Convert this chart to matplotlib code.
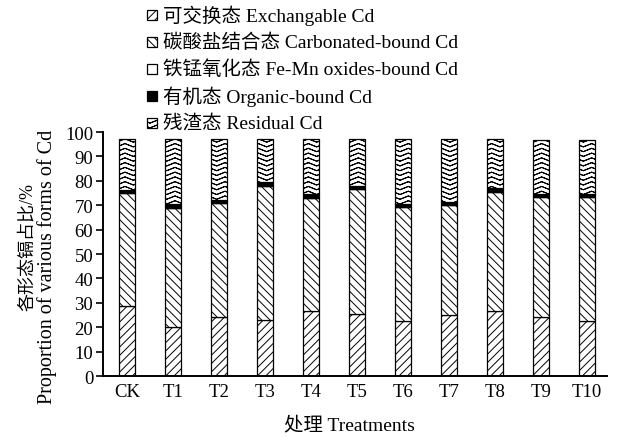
import warnings

import matplotlib
matplotlib.use("Agg")
import matplotlib.pyplot as plt
import numpy as np
from matplotlib import hatch as mhatch
from matplotlib.patches import Rectangle
from matplotlib.path import Path

warnings.filterwarnings("ignore")

treatments = ["CK", "T1", "T2", "T3", "T4", "T5", "T6", "T7", "T8", "T9", "T10"]
exchangable = [28.5, 20.2, 24.0, 23.0, 26.7, 25.6, 22.7, 25.0, 26.6, 24.3, 22.4]
carbonated = [46.5, 48.7, 47.1, 54.9, 46.3, 50.9, 46.4, 44.9, 48.9, 48.9, 50.8]
fe_mn = [0, 0, 0, 0, 0, 0, 0, 0, 0, 0, 0]
organic = [1.2, 1.5, 1.2, 1.5, 1.5, 1.5, 1.4, 1.5, 1.6, 1.6, 1.6]
residual = [20.8, 26.6, 24.7, 17.6, 22.5, 19.0, 26.5, 25.6, 19.9, 22.1, 22.1]

labels = [
    "可交换态 Exchangable Cd",
    "碳酸盐结合态 Carbonated-bound Cd",
    "铁锰氧化态 Fe-Mn oxides-bound Cd",
    "有机态 Organic-bound Cd",
    "残渣态 Residual Cd",
]


class ChevronHatch(mhatch.HatchPatternBase):
    """Rows of upward chevrons, used for the residual fraction.

    Each row runs out and back along the same zigzag so Agg's hatch fill
    covers no area and only the stroke shows.
    """

    def __init__(self, hatch, density):
        n = hatch.count("^")
        self.rows = 21 * n
        self.cols = 6 * n
        self.num_vertices = self.rows * 2 * (2 * self.cols + 1) if n else 0

    def set_vertices_and_codes(self, vertices, codes):
        half = 2 * self.cols + 1
        xs = np.linspace(0.0, 1.0, half)
        bump = np.where(np.arange(half) % 2 == 1, 0.7 / self.rows, 0.0)
        xs = np.concatenate([xs, xs[::-1]])
        bump = np.concatenate([bump, bump[::-1]])
        per_row = 2 * half
        for i in range(self.rows):
            chunk = slice(i * per_row, (i + 1) * per_row)
            vertices[chunk, 0] = xs
            vertices[chunk, 1] = (i + 0.15) / self.rows + bump
            codes[chunk] = Path.LINETO
            codes[i * per_row] = Path.MOVETO


mhatch._hatch_types.append(ChevronHatch)

plt.rcParams["font.family"] = ["Liberation Serif", "Noto Sans CJK SC"]
plt.rcParams["hatch.linewidth"] = 0.7
plt.rcParams["axes.unicode_minus"] = False

styles = [
    dict(facecolor="white", hatch="////"),
    dict(facecolor="white", hatch="\\\\\\\\"),
    dict(facecolor="white", hatch=None),
    dict(facecolor="black", hatch=None),
    dict(facecolor="white", hatch="^"),
]
series = [exchangable, carbonated, fe_mn, organic, residual]

W, H = 617, 439
figure = plt.figure(figsize=(W / 100, H / 100), dpi=100)
axis = figure.add_axes([0.1669, 0.1412, 0.8169, 0.5558])

x = np.arange(len(treatments))
bottom = np.zeros(len(treatments))
for values, style in zip(series, styles):
    axis.bar(x, values, 0.34, bottom=bottom, edgecolor="black", linewidth=0.9, **style)
    bottom += np.array(values)

axis.set_xlim(-0.52, 10.43)
axis.set_ylim(0, 100)
axis.set_yticks(np.arange(0, 101, 10))
axis.set_xticks(x)
axis.set_xticklabels(treatments)
axis.tick_params(axis="y", direction="out", length=5, width=1.2, labelsize=13.5, pad=2)
axis.tick_params(axis="x", length=0, labelsize=13.5, pad=5)
for side in ("top", "right"):
    axis.spines[side].set_visible(False)
for side in ("left", "bottom"):
    axis.spines[side].set_linewidth(1.4)

# legend rows laid out by hand so the spacing stays even
for row, (label, style) in enumerate(zip(labels, styles)):
    y_px = 16 + 27 * row
    box = Rectangle((147 / W, 1 - (y_px + 5) / H), 10 / W, 10 / H, transform=figure.transFigure,
                    edgecolor="black", linewidth=0.9, **style)
    figure.add_artist(box)
    figure.text(163 / W, 1 - y_px / H, label, ha="left", va="center", fontsize=14)

figure.text(0.045, 0.437, "各形态镉占比/%", rotation=90, ha="center", va="center", fontsize=13)
figure.text(0.077, 0.392, "Proportion of various forms of Cd", rotation=90, ha="center",
            va="center", fontsize=14.5)
figure.text(0.567, 0.032, "处理 Treatments", ha="center", va="center", fontsize=14)

figure.savefig("out.png", dpi=100)
plt.close(figure)
